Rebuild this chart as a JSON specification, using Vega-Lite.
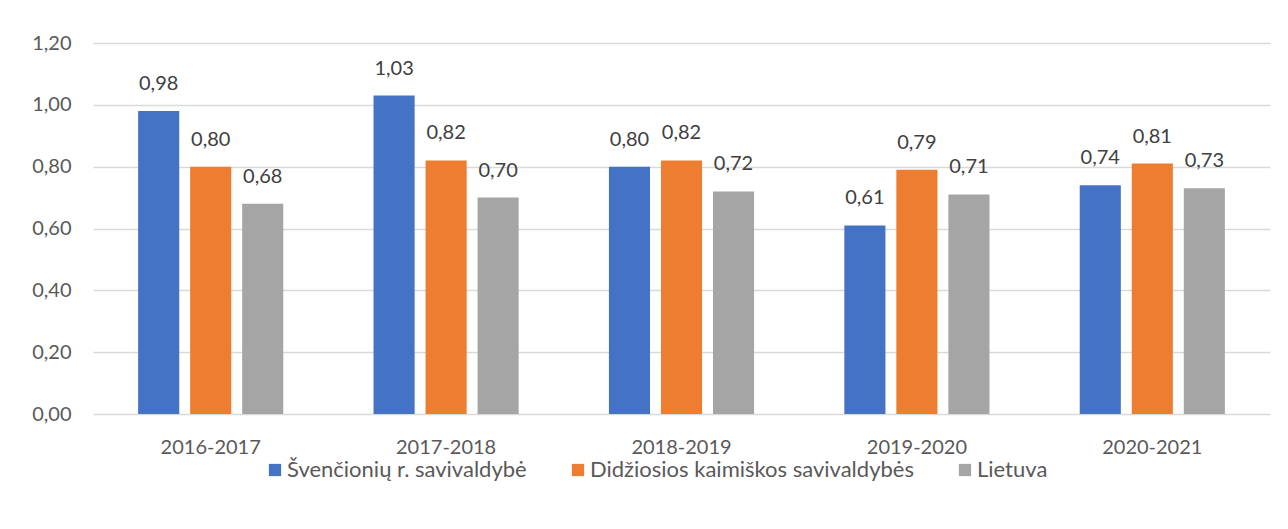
{
  "$schema": "https://vega.github.io/schema/vega-lite/v6.json",
  "width": 1177,
  "height": 371,
  "autosize": {"type": "none"},
  "padding": {"left": 93, "top": 43, "right": 18, "bottom": 115},
  "background": "white",
  "config": {
    "locale": {"number": {"decimal": ",", "thousands": " ", "grouping": [3], "currency": ["", " €"]}},
    "font": "Lato",
    "view": {"stroke": null},
    "axis": {"labelFont": "Lato", "labelFontSize": 20, "labelColor": "#595959", "domain": false, "ticks": false, "title": null}
  },
  "data": {
    "values": [
      {"metai": "2016-2017", "grupe": "Švenčionių r. savivaldybė", "reiksme": 0.98},
      {"metai": "2016-2017", "grupe": "Didžiosios kaimiškos savivaldybės", "reiksme": 0.80},
      {"metai": "2016-2017", "grupe": "Lietuva", "reiksme": 0.68},
      {"metai": "2017-2018", "grupe": "Švenčionių r. savivaldybė", "reiksme": 1.03},
      {"metai": "2017-2018", "grupe": "Didžiosios kaimiškos savivaldybės", "reiksme": 0.82},
      {"metai": "2017-2018", "grupe": "Lietuva", "reiksme": 0.70},
      {"metai": "2018-2019", "grupe": "Švenčionių r. savivaldybė", "reiksme": 0.80},
      {"metai": "2018-2019", "grupe": "Didžiosios kaimiškos savivaldybės", "reiksme": 0.82},
      {"metai": "2018-2019", "grupe": "Lietuva", "reiksme": 0.72},
      {"metai": "2019-2020", "grupe": "Švenčionių r. savivaldybė", "reiksme": 0.61},
      {"metai": "2019-2020", "grupe": "Didžiosios kaimiškos savivaldybės", "reiksme": 0.79},
      {"metai": "2019-2020", "grupe": "Lietuva", "reiksme": 0.71},
      {"metai": "2020-2021", "grupe": "Švenčionių r. savivaldybė", "reiksme": 0.74},
      {"metai": "2020-2021", "grupe": "Didžiosios kaimiškos savivaldybės", "reiksme": 0.81},
      {"metai": "2020-2021", "grupe": "Lietuva", "reiksme": 0.73}
    ]
  },
  "encoding": {
    "x": {
      "field": "metai", "type": "nominal",
      "scale": {"paddingInner": 0.337, "paddingOuter": 0.1685},
      "axis": {"labelAngle": 0, "labelPadding": 23, "grid": false}
    },
    "xOffset": {
      "field": "grupe", "type": "nominal",
      "sort": ["Švenčionių r. savivaldybė", "Didžiosios kaimiškos savivaldybės", "Lietuva"],
      "scale": {"paddingInner": 0.21, "paddingOuter": 0.105}
    },
    "y": {
      "field": "reiksme", "type": "quantitative",
      "scale": {"domain": [0, 1.2], "nice": false},
      "axis": {"values": [0, 0.2, 0.4, 0.6, 0.8, 1.0, 1.2], "format": ".2f", "labelPadding": 22, "gridColor": "#d9d9d9", "gridWidth": 1.5}
    }
  },
  "layer": [
    {
      "mark": {"type": "bar"},
      "encoding": {
        "color": {
          "field": "grupe", "type": "nominal",
          "sort": ["Švenčionių r. savivaldybė", "Didžiosios kaimiškos savivaldybės", "Lietuva"],
          "scale": {"domain": ["Švenčionių r. savivaldybė", "Didžiosios kaimiškos savivaldybės", "Lietuva"], "range": ["#4472C4", "#ED7D31", "#A5A5A5"]},
          "legend": {
            "title": null, "orient": "none", "direction": "horizontal",
            "legendX": 171, "legendY": 416,
            "symbolType": "square", "symbolSize": 150, "symbolStrokeWidth": 0,
            "labelFont": "Lato", "labelFontSize": 22, "labelColor": "#595959", "labelLimit": 500,
            "labelOffset": 1, "columnPadding": 40
          }
        }
      }
    },
    {
      "mark": {"type": "text", "baseline": "middle", "dy": -27, "fontSize": 20, "font": "Lato", "color": "#404040"},
      "encoding": {
        "text": {"field": "reiksme", "type": "quantitative", "format": ".2f"}
      }
    }
  ]
}
